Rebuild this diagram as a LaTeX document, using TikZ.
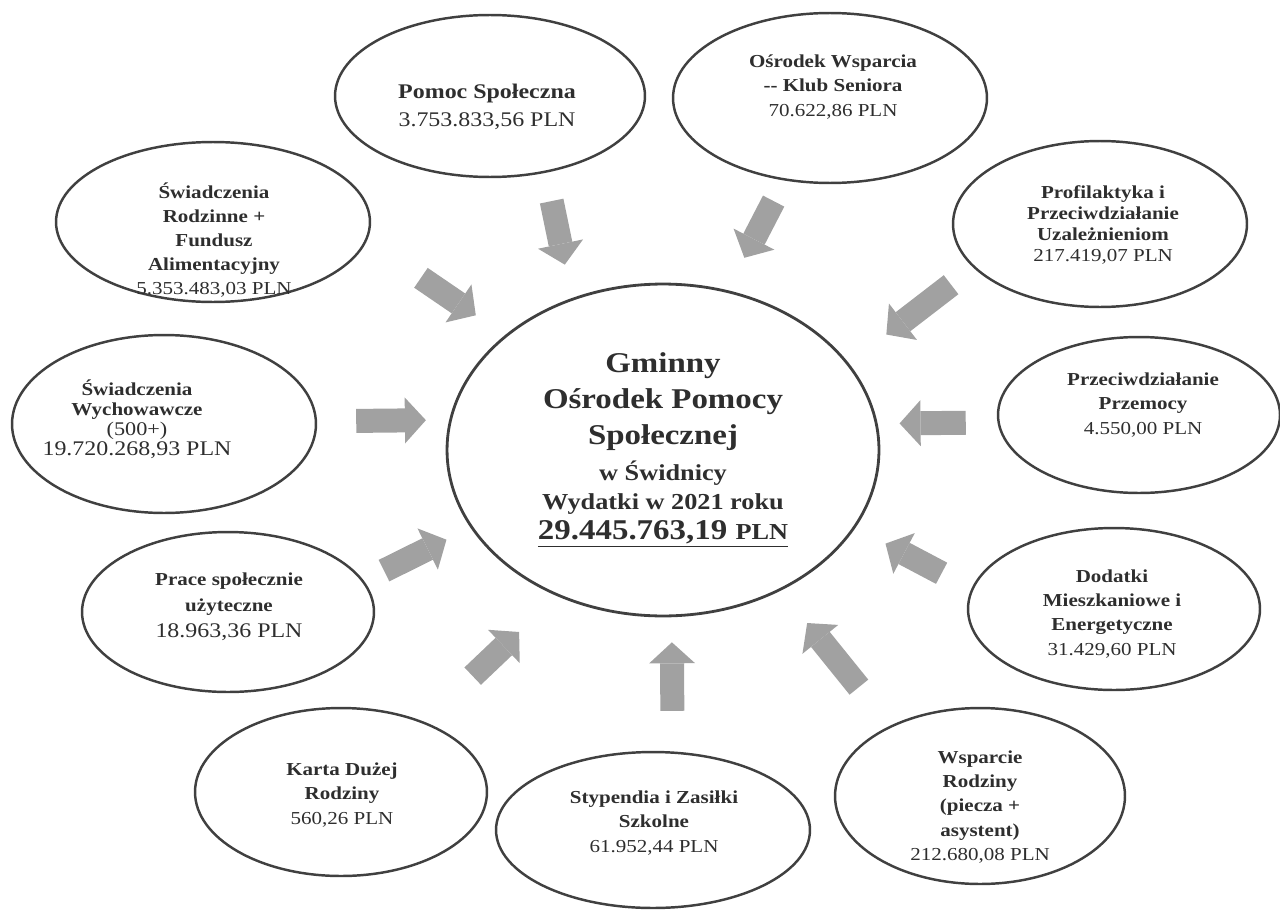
\documentclass[tikz,border=0pt]{standalone}
\usepackage{fontspec}
\setmainfont{Liberation Serif}[FakeStretch=1.15]
\usetikzlibrary{shapes.geometric, arrows.meta}

\tikzset{
  kolo/.style={ellipse, draw=black!75, line width=1.4pt},
  opis/.style={align=center, text=black!82, font=\bfseries\fontsize{10.4}{13.7}\selectfont},
  blok/.style={draw=black!37, line width=0.48cm, -{Triangle[width=0.92cm, length=0.42cm, line width=0pt]}}
}

\begin{document}
\begin{tikzpicture}[x=0.02cm, y=-0.02cm]
\useasboundingbox (0,0) rectangle (1280,909);
\node[kolo, minimum width=8.64cm, minimum height=6.64cm, line width=1.6pt, align=center, text=black!82, font=\bfseries\fontsize{16.3}{20.5}\selectfont] (gops) at (663,450)
  {Gminny\\ Ośrodek Pomocy\\ Społecznej\\ {\fontsize{13}{14}\selectfont w Świdnicy}\\[-4.5pt] {\fontsize{13}{14}\selectfont Wydatki w 2021 roku}\\[-3.4pt] \underline{29.445.763,19 {\fontsize{13}{14}\selectfont PLN}}};
\node[kolo, minimum width=6.2cm, minimum height=3.24cm] (pomoc) at (490,96) {};
\node[kolo, minimum width=6.28cm, minimum height=3.4cm] (osrodek) at (830,98) {};
\node[kolo, minimum width=6.28cm, minimum height=3.2cm] (rodzinne) at (213,222) {};
\node[kolo, minimum width=5.88cm, minimum height=3.32cm] (profil) at (1100,224) {};
\node[kolo, minimum width=6.08cm, minimum height=3.56cm] (wychow) at (164,424) {};
\node[kolo, minimum width=5.64cm, minimum height=3.12cm] (przemoc) at (1139,415) {};
\node[kolo, minimum width=5.84cm, minimum height=3.2cm] (prace) at (228,612) {};
\node[kolo, minimum width=5.84cm, minimum height=3.24cm] (dodatki) at (1114,609) {};
\node[kolo, minimum width=5.84cm, minimum height=3.36cm] (karta) at (341,792) {};
\node[kolo, minimum width=6.28cm, minimum height=3.12cm] (stypendia) at (653,830) {};
\node[kolo, minimum width=5.8cm, minimum height=3.52cm] (wsparcie) at (980,796) {};
\node[opis, font=\bfseries\fontsize{11.85}{16}\selectfont] (pomoc-t) at (487,107) {Pomoc Społeczna\\ \textmd{3.753.833,56 PLN}};
\node[opis] (osrodek-t) at (833,87) {Ośrodek Wsparcia\\ -{}- Klub Seniora\\ \textmd{70.622,86 PLN}};
\node[opis] (rodzinne-t) at (214,240) {Świadczenia\\ Rodzinne +\\ Fundusz\\ Alimentacyjny\\ \textmd{5.353.483,03 PLN}};
\node[opis, font=\bfseries\fontsize{10.4}{12}\selectfont] (profil-t) at (1103,225) {Profilaktyka i\\ Przeciwdziałanie\\ Uzależnieniom\\ \textmd{217.419,07 PLN}};
\node[opis, font=\bfseries\fontsize{10.4}{11.4}\selectfont] (wychow-t) at (137,419) {Świadczenia\\ Wychowawcze\\ \textmd{\fontsize{11}{11.4}\selectfont (500+)}\\ \textmd{\fontsize{11.85}{11.4}\selectfont 19.720.268,93 PLN}};
\node[opis] (przemoc-t) at (1143,405) {Przeciwdziałanie\\ Przemocy\\ \textmd{4.550,00 PLN}};
\node[opis, font=\bfseries\fontsize{10.4}{14.8}\selectfont] (prace-t) at (229,607) {Prace społecznie\\ użyteczne\\ \textmd{\fontsize{11.85}{14.8}\selectfont 18.963,36 PLN}};
\node[opis] (dodatki-t) at (1112,614) {Dodatki\\ Mieszkaniowe i\\ Energetyczne\\ \textmd{31.429,60 PLN}};
\node[opis] (karta-t) at (342,795) {Karta Dużej\\ Rodziny\\ \textmd{560,26 PLN}};
\node[opis] (stypendia-t) at (654,823) {Stypendia i Zasiłki\\ Szkolne\\ \textmd{61.952,44 PLN}};
\node[opis] (wsparcie-t) at (980,807) {Wsparcie\\ Rodziny\\ (piecza +\\ asystent)\\ \textmd{212.680,08 PLN}};
\draw[blok, shorten <=0.578cm, shorten >=0.684cm] (pomoc.-54) -- (gops.121);
\draw[blok, shorten <=0.463cm, shorten >=0.730cm] (osrodek.-119) -- (gops.68);
\draw[blok, shorten <=1.31cm, shorten >=0.705cm] (rodzinne.-7) -- (gops.144);
\draw[blok, shorten <=0.782cm, shorten >=0.466cm] (wychow.1) -- (gops.172);
\draw[blok, shorten <=0.451cm, shorten >=0.537cm] (prace.13) -- (gops.-158);
\draw[blok, shorten <=1.328cm, shorten >=1.043cm] (karta.40) -- (gops.-126);
\draw[blok, shorten <=0.812cm, shorten >=0.502cm] (stypendia.76) -- (gops.-87);
\draw[blok, shorten <=0.991cm, shorten >=0.834cm] (wsparcie.142) -- (gops.-50);
\draw[blok, shorten <=0.671cm, shorten >=0.679cm] (dodatki.172) -- (gops.-22);
\draw[blok, shorten <=0.634cm, shorten >=0.438cm] (przemoc.-177) -- (gops.7);
\draw[blok, shorten <=0.560cm, shorten >=0.944cm] (profil.-161) -- (gops.25);
\end{tikzpicture}
\end{document}
